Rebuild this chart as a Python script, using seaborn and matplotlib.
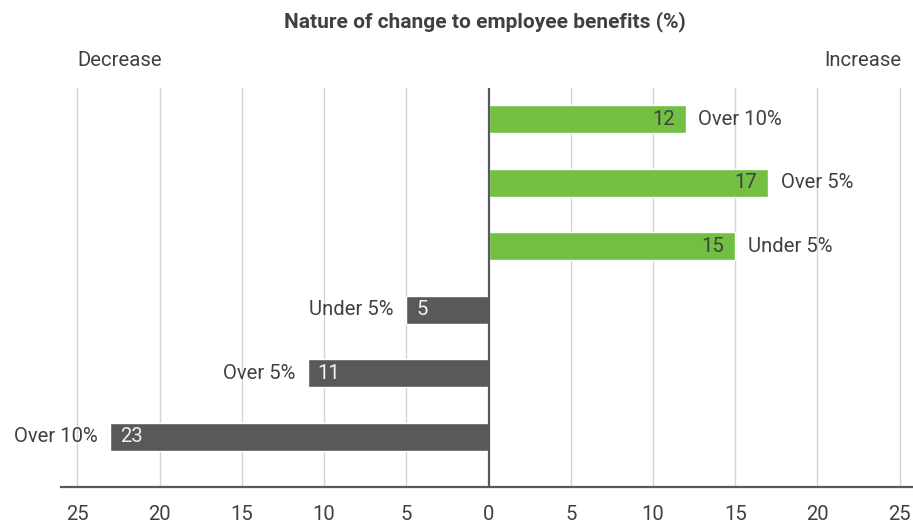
import matplotlib
matplotlib.use("Agg")
import matplotlib.pyplot as plt
import seaborn as sns
import pandas as pd

categories = ["inc_over10", "inc_over5", "inc_under5", "dec_under5", "dec_over5", "dec_over10"]
values = [12, 17, 15, -5, -11, -23]
bar_labels = ["Over 10%", "Over 5%", "Under 5%", "Under 5%", "Over 5%", "Over 10%"]
direction = ["Increase", "Increase", "Increase", "Decrease", "Decrease", "Decrease"]
tick_values = [-25, -20, -15, -10, -5, 0, 5, 10, 15, 20, 25]
tick_labels = ["25", "20", "15", "10", "5", "0", "5", "10", "15", "20", "25"]
title = "Nature of change to employee benefits (%)"

df = pd.DataFrame({"category": categories, "value": values, "label": bar_labels, "direction": direction})

sns.set_theme(style="white")
plt.rcParams["font.family"] = ["Roboto", "DejaVu Sans"]

TEXT = "#404041"
GREEN = "#72bf44"
GREY = "#58595b"
FS = 14.6

fig = plt.figure(figsize=(9.13, 5.26), dpi=100)
ax = fig.add_axes([61 / 913, 1 - 487 / 526, (912 - 61) / 913, (487 - 88) / 526])

sns.barplot(data=df, x="value", y="category", hue="direction", order=categories,
            palette={"Increase": GREEN, "Decrease": GREY}, width=0.44, dodge=False,
            legend=False, ax=ax, saturation=1)

ax.set_xlim(-26.0, 25.75)
ax.set_ylim(5.79, -0.49)

for t in tick_values:
    if t != 0:
        ax.axvline(t, color="#d4d4d4", lw=1, zorder=0)
ax.axvline(0, color="#58595b", lw=1.6, zorder=3)

for i, row in df.iterrows():
    v = row["value"]
    if v > 0:
        ax.annotate(str(abs(v)), (v, i), xytext=(-8, 0), textcoords="offset points",
                    ha="right", va="center", fontsize=FS, color=TEXT)
        ax.annotate(row["label"], (v, i), xytext=(9, 0), textcoords="offset points",
                    ha="left", va="center", fontsize=FS, color=TEXT)
    else:
        ax.annotate(str(abs(v)), (v, i), xytext=(7, 0), textcoords="offset points",
                    ha="left", va="center", fontsize=FS, color="#f2f2f2")
        ax.annotate(row["label"], (v, i), xytext=(-9, 0), textcoords="offset points",
                    ha="right", va="center", fontsize=FS, color=TEXT)

ax.set_xticks(tick_values)
ax.set_xticklabels(tick_labels, fontsize=FS, color=TEXT)
ax.tick_params(axis="x", length=0, pad=13)
ax.set_yticks([])
ax.set_xlabel("")
ax.set_ylabel("")
for s in ["top", "left", "right"]:
    ax.spines[s].set_visible(False)
ax.spines["bottom"].set_color("#58595b")
ax.spines["bottom"].set_linewidth(1.6)

fig.text(485 / 913, 1 - 22 / 526, title, ha="center", va="center", fontsize=15,
         fontweight="bold", color=TEXT)
fig.text(120 / 913, 1 - 60 / 526, "Decrease", ha="center", va="center", fontsize=FS, color=TEXT)
fig.text(863 / 913, 1 - 60 / 526, "Increase", ha="center", va="center", fontsize=FS, color=TEXT)

fig.savefig("out.png", dpi=100)
